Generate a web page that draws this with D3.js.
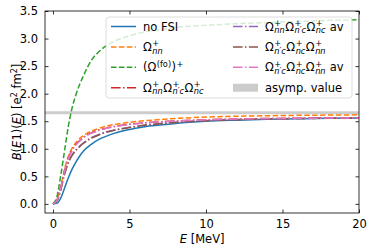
<!DOCTYPE html>
<html>
<head>
<meta charset="utf-8">
<script src="https://cdn.jsdelivr.net/npm/d3@7"></script>
<style>
  body { margin: 0; background: #fff; }
  text { font-family: "DejaVu Sans", sans-serif; fill: #000; }
</style>
</head>
<body>
<svg id="chart" width="374" height="251"></svg>
<script>
// ------- Data -------

const energies = [0, 0.25, 0.5, 0.75, 1, 1.25, 1.5, 1.75, 2, 2.5, 3, 3.5, 4, 5, 6, 7, 8, 10, 12, 14, 16, 18, 20];

const noFsi   = [0, 0.01, 0.10, 0.28, 0.47, 0.63, 0.76, 0.87, 0.96, 1.08, 1.17, 1.23, 1.28, 1.35, 1.40, 1.43, 1.46, 1.50, 1.52, 1.535, 1.545, 1.552, 1.557];
const omegaNN = [0, 0.07, 0.30, 0.62, 0.86, 1.01, 1.11, 1.19, 1.24, 1.32, 1.37, 1.41, 1.44, 1.48, 1.51, 1.53, 1.55, 1.575, 1.59, 1.60, 1.607, 1.612, 1.616];
const omegaFo = [0, 0.12, 0.50, 0.95, 1.40, 1.74, 1.98, 2.17, 2.33, 2.60, 2.76, 2.87, 2.95, 3.05, 3.12, 3.16, 3.20, 3.24, 3.27, 3.29, 3.31, 3.33, 3.34];
const prodA   = [0, 0.065, 0.29, 0.59, 0.83, 0.98, 1.08, 1.15, 1.21, 1.29, 1.34, 1.375, 1.405, 1.445, 1.472, 1.49, 1.505, 1.527, 1.541, 1.549, 1.554, 1.558, 1.561];
const prodAav = [0, 0.05, 0.25, 0.54, 0.75, 0.89, 0.98, 1.05, 1.11, 1.20, 1.26, 1.31, 1.34, 1.39, 1.43, 1.46, 1.48, 1.51, 1.53, 1.542, 1.55, 1.555, 1.558];
const prodB   = [0, 0.048, 0.24, 0.53, 0.74, 0.88, 0.97, 1.04, 1.10, 1.19, 1.25, 1.30, 1.335, 1.385, 1.425, 1.455, 1.477, 1.508, 1.528, 1.541, 1.549, 1.554, 1.557];
const prodBav = [0, 0.06, 0.28, 0.58, 0.82, 0.97, 1.07, 1.14, 1.20, 1.28, 1.33, 1.37, 1.40, 1.44, 1.47, 1.488, 1.503, 1.525, 1.54, 1.548, 1.553, 1.557, 1.56];

const asympValue = 1.655;

const xTicks = [0, 5, 10, 15, 20];
const yTicks = [0, 0.5, 1, 1.5, 2, 2.5, 3, 3.5];

// label parts: plain text, or {b: base, sup, sub}
const series = [
    {name: 'noFsi',   values: noFsi,   color: '#1f77b4', dash: null,              label: [{t: 'no FSI'}]},
    {name: 'omegaNN', values: omegaNN, color: '#ff7f0e', dash: '5.5,2.4',         label: [{b: 'Ω', sup: '+', sub: 'nn'}]},
    {name: 'omegaFo', values: omegaFo, color: '#2ca02c', dash: '5.5,2.4',         label: [{t: '('}, {b: 'Ω', sup: '(fo)'}, {b: ')', sup: '+'}]},
    {name: 'prodA',   values: prodA,   color: '#d62728', dash: '9.6,2.4,1.5,2.4', label: [{b: 'Ω', sup: '+', sub: 'nn'}, {b: 'Ω', sup: '+', sub: 'n′c'}, {b: 'Ω', sup: '+', sub: 'nc'}]},
    {name: 'prodAav', values: prodAav, color: '#9467bd', dash: '9.6,2.4,1.5,2.4', label: [{b: 'Ω', sup: '+', sub: 'nn'}, {b: 'Ω', sup: '+', sub: 'n′c'}, {b: 'Ω', sup: '+', sub: 'nc'}, {t: ' av'}]},
    {name: 'prodB',   values: prodB,   color: '#8c564b', dash: '9.6,2.4,1.5,2.4', label: [{b: 'Ω', sup: '+', sub: 'n′c'}, {b: 'Ω', sup: '+', sub: 'nc'}, {b: 'Ω', sup: '+', sub: 'nn'}]},
    {name: 'prodBav', values: prodBav, color: '#e377c2', dash: '9.6,2.4,1.5,2.4', label: [{b: 'Ω', sup: '+', sub: 'n′c'}, {b: 'Ω', sup: '+', sub: 'nc'}, {b: 'Ω', sup: '+', sub: 'nn'}, {t: ' av'}]}
];

// ------- Set up the plot area -------

const svg = d3.select('#chart');
const margin = {top: 11, right: 15, bottom: 38, left: 45};
const width = +svg.attr('width');
const height = +svg.attr('height');
const innerWidth = width - margin.left - margin.right;
const innerHeight = height - margin.top - margin.bottom;
const fontSize = 11.5;

const x = d3.scaleLinear().domain([-0.52, 20]).range([0, innerWidth]);
const y = d3.scaleLinear().domain([-0.165, 3.5]).range([innerHeight, 0]);

const g = svg.append('g')
    .attr('transform', `translate(${margin.left}, ${margin.top})`);

g.append('clipPath')
    .attr('id', 'clip')
    .append('rect')
        .attr('width', innerWidth)
        .attr('height', innerHeight);

// ------- Asymptotic value and curves -------

const plotG = g.append('g').attr('clip-path', 'url(#clip)');

plotG.append('line')
    .attr('x1', 0)
    .attr('x2', innerWidth)
    .attr('y1', y(asympValue))
    .attr('y2', y(asympValue))
    .attr('stroke', '#cccccc')
    .attr('stroke-width', 3);

const line = d3.line()
    .x((d, i) => x(energies[i]))
    .y(d => y(d))
    .curve(d3.curveMonotoneX);

plotG.selectAll('path.curve')
    .data(series)
    .enter()
    .append('path')
        .attr('class', 'curve')
        .attr('d', d => line(d.values))
        .attr('fill', 'none')
        .attr('stroke', d => d.color)
        .attr('stroke-width', 1.5)
        .attr('stroke-dasharray', d => d.dash);

// ------- Axes with inward ticks on all sides -------

const tickLen = 3.5;

const axes = [
    {axis: d3.axisBottom(x), transform: `translate(0, ${innerHeight})`, values: xTicks, format: d3.format('d')},
    {axis: d3.axisTop(x), transform: 'translate(0, 0)', values: xTicks, format: null},
    {axis: d3.axisLeft(y), transform: 'translate(0, 0)', values: yTicks, format: d3.format('.1f')},
    {axis: d3.axisRight(y), transform: `translate(${innerWidth}, 0)`, values: yTicks, format: null}
];

axes.forEach(a => {
    const axisG = g.append('g')
        .attr('transform', a.transform)
        .call(a.axis
            .tickValues(a.values)
            .tickSizeInner(-tickLen)
            .tickSizeOuter(0)
            .tickPadding(tickLen + 3.5)
            .tickFormat(a.format || (() => '')));
    axisG.select('.domain').remove();
    axisG.selectAll('.tick line').attr('stroke', '#000').attr('stroke-width', 0.8);
    if (a.format) {
        axisG.selectAll('.tick text')
            .attr('font-size', fontSize)
            .attr('font-family', 'DejaVu Sans')
            .attr('fill', '#000');
    } else {
        axisG.selectAll('.tick text').remove();
    }
    axisG.attr('font-size', null).attr('font-family', null);
});

g.append('rect')
    .attr('width', innerWidth)
    .attr('height', innerHeight)
    .attr('fill', 'none')
    .attr('stroke', '#000')
    .attr('stroke-width', 0.8);

// ------- Axis labels -------

const xLabel = svg.append('text')
    .attr('x', margin.left + x(9.75))
    .attr('y', 243)
    .attr('text-anchor', 'middle')
    .attr('font-size', fontSize);
xLabel.append('tspan').attr('font-style', 'italic').text('E');
xLabel.append('tspan').text(' [MeV]');

const yLabel = svg.append('text')
    .attr('transform', `translate(21, ${margin.top + innerHeight / 2}) rotate(-90)`)
    .attr('text-anchor', 'middle')
    .attr('font-size', fontSize);
yLabel.append('tspan').attr('font-style', 'italic').text('B');
yLabel.append('tspan').text('(');
yLabel.append('tspan').attr('font-style', 'italic').text('E');
yLabel.append('tspan').text('1)(');
yLabel.append('tspan').attr('font-style', 'italic').text('E');
yLabel.append('tspan').text(') [e');
yLabel.append('tspan').attr('font-size', 8).attr('dy', -4.5).text('2');
yLabel.append('tspan').attr('dy', 4.5).text(' fm');
yLabel.append('tspan').attr('font-size', 8).attr('dy', -4.5).text('2');
yLabel.append('tspan').attr('dy', 4.5).text(']');

// ------- Legend -------

const legendG = svg.append('g');

legendG.append('rect')
    .attr('x', 106)
    .attr('y', 17)
    .attr('width', 246)
    .attr('height', 81)
    .attr('rx', 3)
    .attr('fill', '#fff')
    .attr('fill-opacity', 0.8)
    .attr('stroke', '#d4d4d4')
    .attr('stroke-width', 0.8);

// measure a string with a throwaway text node
const measure = (str, size, italic) => {
    const t = svg.append('text')
        .attr('font-size', size)
        .attr('font-style', italic ? 'italic' : null)
        .style('white-space', 'pre')
        .text(str);
    const w = t.node().getComputedTextLength();
    t.remove();
    return w;
};

// draws a mathtext-like label as one text element with placed tspans
const mathLabel = (parent, x0, y0, parts) => {
    const small = 8.2;
    const text = parent.append('text')
        .attr('x', x0)
        .attr('y', y0)
        .attr('font-size', fontSize)
        .style('white-space', 'pre');
    let cx = x0;
    parts.forEach(p => {
        if (p.t !== undefined) {
            text.append('tspan').attr('x', cx).attr('y', y0).text(p.t);
            cx += measure(p.t, fontSize);
            return;
        }
        text.append('tspan').attr('x', cx).attr('y', y0).text(p.b);
        cx += measure(p.b, fontSize) + 0.5;
        let w = 0;
        if (p.sup) {
            text.append('tspan').attr('x', cx).attr('y', y0 - 4.8)
                .attr('font-size', small).text(p.sup);
            w = Math.max(w, measure(p.sup, small));
        }
        if (p.sub) {
            text.append('tspan').attr('x', cx).attr('y', y0 + 2.6)
                .attr('font-size', small).attr('font-style', 'italic').text(p.sub);
            w = Math.max(w, measure(p.sub, small, true));
        }
        cx += w + 0.5;
    });
};

const legendItems = series.map(d => ({color: d.color, dash: d.dash, label: d.label, kind: 'line'}))
    .concat([{color: '#cccccc', label: [{t: 'asymp. value'}], kind: 'patch'}]);

const colX = [111, 233];
const rowY = d => 26.5 + d * 20.4;

legendItems.forEach((d, i) => {
    const col = Math.floor(i / 4);
    const row = i % 4;
    const hx = colX[col];
    const hy = rowY(row);
    if (d.kind === 'line') {
        legendG.append('line')
            .attr('x1', hx).attr('x2', hx + 25)
            .attr('y1', hy).attr('y2', hy)
            .attr('stroke', d.color)
            .attr('stroke-width', 1.5)
            .attr('stroke-dasharray', d.dash);
    } else {
        legendG.append('rect')
            .attr('x', hx).attr('y', hy - 4)
            .attr('width', 25).attr('height', 8)
            .attr('fill', d.color);
    }
    mathLabel(legendG, hx + 32, hy + 4, d.label);
});
</script>
</body>
</html>
